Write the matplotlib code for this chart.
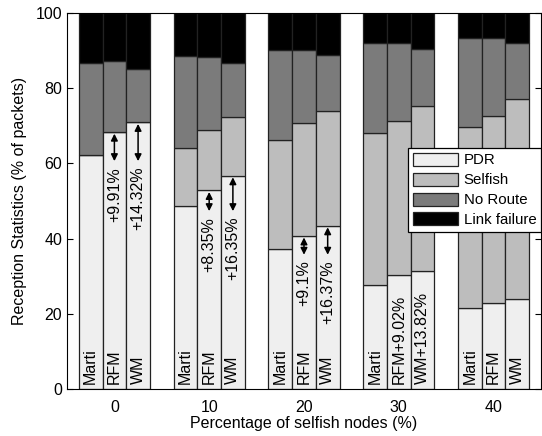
import matplotlib
matplotlib.use("Agg")
import matplotlib.pyplot as plt
import numpy as np

plt.rcParams['font.family'] = ['Liberation Sans', 'DejaVu Sans']

groups = ['0', '10', '20', '30', '40']
methods = ['Marti', 'RFM', 'WM']
series = ['PDR', 'Selfish', 'No Route', 'Link failure']
colors = ['#efefef', '#bdbdbd', '#7b7b7b', '#000000']

# rows = selfish-node percentage, columns = Marti, RFM, WM
pdr = [[62.1, 68.3, 70.9],
       [48.8, 52.8, 56.7],
       [37.2, 40.7, 43.4],
       [27.7, 30.2, 31.5],
       [21.5, 23.0, 23.9]]
selfish = [[0.0, 0.0, 0.0],
           [15.4, 16.0, 15.7],
           [29.0, 30.0, 30.6],
           [40.3, 41.2, 43.8],
           [48.3, 49.7, 53.3]]
no_route = [[24.5, 18.8, 14.2],
            [24.4, 19.5, 14.2],
            [24.0, 19.4, 14.8],
            [23.9, 20.5, 15.1],
            [23.5, 20.6, 14.9]]
link_failure = [[13.4, 12.9, 14.9],
                [11.4, 11.7, 13.4],
                [9.8, 9.9, 11.2],
                [8.1, 8.1, 9.6],
                [6.7, 6.7, 7.9]]

# gain labels shown with arrows (RFM, WM) per group
arrow_gains = {0: ['+9.91%', '+14.32%'], 1: ['+8.35%', '+16.35%'], 2: ['+9.1%', '+16.37%']}
bar_labels = {3: ['Marti', 'RFM+9.02%', 'WM+13.82%']}

data = [np.array(pdr), np.array(selfish), np.array(no_route), np.array(link_failure)]

fig = plt.figure(figsize=(5.42, 4.36), dpi=100)
ax = fig.add_axes([0.1236, 0.1078, 0.8745, 0.8624])

width = 0.25
x = np.arange(len(groups))
offsets = [-width, 0, width]

for j, m in enumerate(methods):
    bottom = np.zeros(len(groups))
    for k, s in enumerate(series):
        vals = data[k][:, j]
        ax.bar(x + offsets[j], vals, width, bottom=bottom, color=colors[k],
               edgecolor='#222222', linewidth=0.9, label=s if j == 0 else None)
        bottom += vals

fs = 11.5
for i in range(len(groups)):
    labels = bar_labels.get(i, methods)
    for j in range(3):
        ax.text(x[i] + offsets[j], 1.2, labels[j], rotation=90, ha='center', va='bottom',
                fontsize=fs)
    if i in arrow_gains:
        marti = pdr[i][0]
        for j in (1, 2):
            xx = x[i] + offsets[j]
            ax.annotate('', xy=(xx, pdr[i][j] - 0.4), xytext=(xx, marti - 1.5),
                        arrowprops=dict(arrowstyle='<|-|>', color='black', lw=1.1,
                                        mutation_scale=10, shrinkA=0, shrinkB=0))
            ax.text(xx, marti - 3, arrow_gains[i][j - 1], rotation=90, ha='center', va='top',
                    fontsize=fs)

ax.set_xlim(-0.5, 4.5)
ax.set_ylim(0, 100)
ax.set_xticks(x)
ax.set_xticklabels(groups)
ax.set_yticks([0, 20, 40, 60, 80, 100])
ax.tick_params(axis='y', direction='in', right=True, length=4, labelsize=11.5)
ax.tick_params(axis='x', length=0, labelsize=11.5, pad=8)
ax.set_xlabel('Percentage of selfish nodes (%)', fontsize=11.5, labelpad=1)
ax.set_ylabel('Reception Statistics (% of packets)', fontsize=11.5, labelpad=6)

leg = ax.legend(loc='upper right', bbox_to_anchor=(1.0, 0.64), borderaxespad=0,
                fancybox=False, edgecolor='black', framealpha=1, fontsize=10.8,
                handlelength=3.0, handleheight=0.95, labelspacing=0.35,
                handletextpad=0.4, borderpad=0.3)
leg.get_frame().set_linewidth(0.9)

fig.savefig('out.png', dpi=100)
